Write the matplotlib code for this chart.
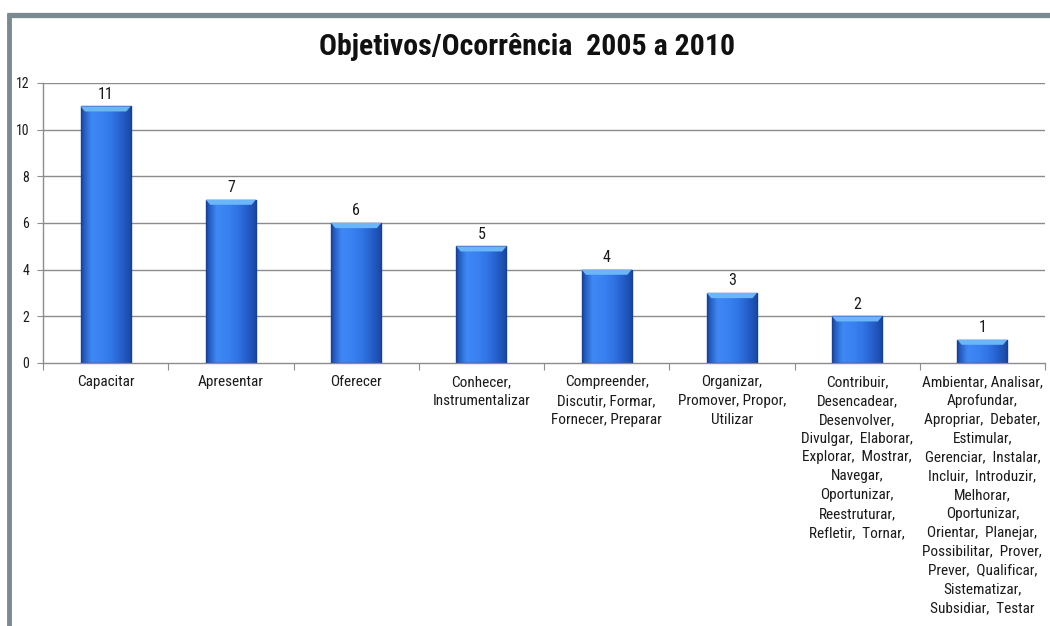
import numpy as np
import matplotlib
matplotlib.use("Agg")
import matplotlib.pyplot as plt
from matplotlib.colors import LinearSegmentedColormap
from matplotlib.patches import Rectangle, Polygon

plt.rcParams['font.family'] = ['Roboto Condensed', 'Liberation Sans', 'DejaVu Sans']

title = "Objetivos/Ocorrência  2005 a 2010"
categories = [
    "Capacitar",
    "Apresentar",
    "Oferecer",
    "Conhecer,\nInstrumentalizar",
    "Compreender,\nDiscutir, Formar,\nFornecer, Preparar",
    "Organizar,\nPromover, Propor,\nUtilizar",
    "Contribuir,\nDesencadear,\nDesenvolver,\nDivulgar,  Elaborar,\nExplorar,  Mostrar,\n"
    "Navegar,\nOportunizar,\nReestruturar,\nRefletir,  Tornar,",
    "Ambientar, Analisar,\nAprofundar,\nApropriar,  Debater,\nEstimular,\nGerenciar,  Instalar,\n"
    "Incluir,  Introduzir,\nMelhorar,\nOportunizar,\nOrientar,  Planejar,\nPossibilitar,  Prover,\n"
    "Prever,  Qualificar,\nSistematizar,\nSubsidiar,  Testar",
]
values = [11, 7, 6, 5, 4, 3, 2, 1]
yticks = [0, 2, 4, 6, 8, 10, 12]

W, H = 1050, 626
fig = plt.figure(figsize=(W / 100, H / 100), dpi=100)
fig.patch.set_facecolor("white")

# outer frame of the chart area
frame_col = "#7b8a90"
fig.add_artist(plt.Line2D([9 / W, 9 / W], [0, 1 - 13 / H], transform=fig.transFigure,
                          color=frame_col, lw=3.5, solid_capstyle="butt"))
fig.add_artist(plt.Line2D([7 / W, 1.0], [1 - 15 / H, 1 - 15 / H], transform=fig.transFigure,
                          color=frame_col, lw=3.8, solid_capstyle="butt"))

ax = fig.add_axes([43 / W, 1 - 363 / H, (1045 - 43) / W, (363 - 83) / H])
ax.set_facecolor("none")
n = len(values)
x = np.arange(n)

for s in ["top", "right"]:
    ax.spines[s].set_visible(False)
for s in ["left", "bottom"]:
    ax.spines[s].set_color("#8c8c8c")
    ax.spines[s].set_linewidth(1.0)

ax.set_yticks(yticks)
ax.set_yticklabels([str(t) for t in yticks], fontsize=10, color="#1a1a1a")
ax.tick_params(axis="y", length=4, color="#8c8c8c", pad=6)
for t in yticks[1:]:
    ax.axhline(t, color="#8c8c8c", lw=1.0, zorder=0)

# category boundaries as ticks, labels centred under bars
ax.set_xticks(np.arange(n + 1) - 0.5)
ax.set_xticklabels([])
ax.tick_params(axis="x", length=5, color="#8c8c8c", direction="out")
for xi, lab in zip(x, categories):
    ax.text(xi, -0.52, lab, ha="center", va="top", fontsize=11, linespacing=1.44,
            color="#1a1a1a", clip_on=False)

# gradient bars
bar_w = 0.4
cmap = LinearSegmentedColormap.from_list(
    "barblue", ["#1a4aa8", "#3f88f5", "#3a82f2", "#3276e8", "#2560cc", "#1a47a0"])
grad = np.linspace(0, 1, 64)[None, :]
for xi, v in zip(x, values):
    x0, x1 = xi - bar_w / 2, xi + bar_w / 2
    rect = Rectangle((x0, 0), bar_w, v, facecolor="none", edgecolor="#17409a", lw=1.0, zorder=3)
    ax.add_patch(rect)
    im = ax.imshow(grad, cmap=cmap, aspect="auto", extent=(x0, x1, 0, v), zorder=2,
                   interpolation="bicubic")
    im.set_clip_path(rect)
    # bevelled light cap on top
    cap_h = 0.22
    cap = Polygon([(x0, v), (x1, v), (x1 - 0.035, v - cap_h), (x0 + 0.035, v - cap_h)],
                  closed=True, facecolor="#6ab6f8", edgecolor="none", zorder=3)
    ax.add_patch(cap)
    ax.text(xi, v + 0.2, str(v), ha="center", va="bottom", fontsize=11.5, color="#1a1a1a")

ax.set_xlim(-0.5, n - 0.5)
ax.set_ylim(0, 12)

fig.text(527 / W, 1 - 47 / H, title, ha="center", va="center", fontsize=21.5,
         fontweight="bold", color="#111111")

fig.savefig("out.png", dpi=100)
